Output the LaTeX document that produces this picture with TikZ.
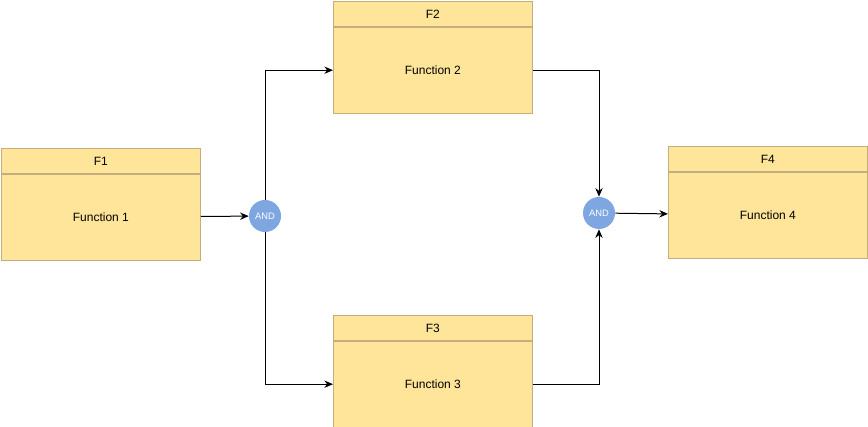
\documentclass[tikz,border=0pt]{standalone}
\usepackage{fontspec}
\setmainfont{Liberation Sans}
\usetikzlibrary{positioning,arrows.meta}

\definecolor{boxfill}{HTML}{FFE599}
\definecolor{boxline}{HTML}{C4AE7C}
\definecolor{andfill}{HTML}{7EA6E0}

\tikzset{
    head/.style={draw=boxline, fill=boxfill, minimum width=149.25pt, minimum height=18.75pt,
        inner sep=0pt, line width=0.6pt, font=\fontsize{9}{10}\selectfont},
    body/.style={head, minimum height=64.5pt},
    gate/.style={circle, fill=andfill, minimum size=24pt, inner sep=0pt, text=white,
        font=\fontsize{7}{8}\selectfont},
    flow/.style={-{Stealth[length=6.5pt,width=5.5pt]}, line width=0.75pt}
}

\begin{document}
\begin{tikzpicture}[x=0.75pt,y=-0.75pt]
    \useasboundingbox (0,0) rectangle (868,427);
    % functions
    \node[head, anchor=north west] (f1h) at (1,148) {F1};
    \node[body, below=0pt of f1h] (f1) {Function 1};
    \node[head, anchor=north west] (f2h) at (333,1) {F2};
    \node[body, below=0pt of f2h] (f2) {Function 2};
    \node[head, anchor=north west] (f3h) at (333,315) {F3};
    \node[body, below=0pt of f3h] (f3) {Function 3};
    \node[head, anchor=north west] (f4h) at (668,146) {F4};
    \node[body, below=0pt of f4h] (f4) {Function 4};
    % gates
    \node[gate] (and1) at (265,216) {AND};
    \node[gate] (and2) at (599,213) {AND};

    \draw[flow] (f1) -- (and1);
    \draw[flow] (and1) |- (f2);
    \draw[flow] (and1) |- (f3);
    \draw[flow] (f2) -| (and2);
    \draw[flow] (f3) -| (and2);
    \draw[flow] (and2) -- (f4);
\end{tikzpicture}
\end{document}
